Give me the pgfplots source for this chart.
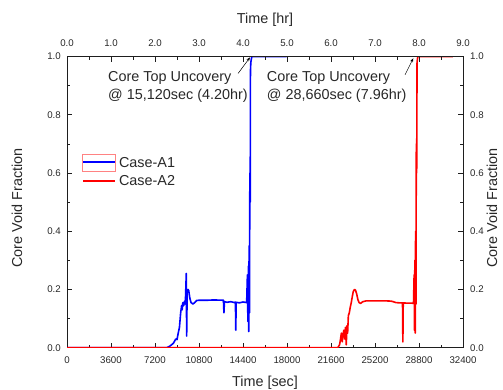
\documentclass[border=0pt]{standalone}
\usepackage{fontspec}
\setmainfont{Liberation Sans}
\usepackage{pgfplots}
\pgfplotsset{compat=1.18}
\usetikzlibrary{arrows.meta}
\definecolor{txt}{RGB}{40,40,40}
\definecolor{ax}{RGB}{30,30,30}
\definecolor{selbox}{RGB}{255,130,130}
\definecolor{cA}{RGB}{0,0,255}
\definecolor{cB}{RGB}{255,0,0}
\begin{document}
\begin{tikzpicture}
\path[use as bounding box] (0,0) rectangle (503pt,389pt);
\pgfplotsset{
  common/.style={
    at={(67pt,41.3pt)}, anchor=south west,
    width=396pt, height=291.2pt, scale only axis,
    ymin=0, ymax=1,
    tick align=inside,
    major tick length=5pt, minor tick length=3pt,
    tick style={ax, line width=0.6pt},
    axis line style={ax, line width=0.8pt},
    tick label style={font=\fontsize{9.7}{11}\selectfont, text=txt, inner sep=0pt},
    label style={font=\fontsize{14.4}{16}\selectfont, text=txt},
    ytick={0,0.2,0.4,0.6,0.8,1.0},
    yticklabels={0.0,0.2,0.4,0.6,0.8,1.0},
    minor y tick num=1,
    minor x tick num=1,
    scaled x ticks=false, scaled y ticks=false,
    /pgf/number format/assume math mode=true,
  }
}
\begin{axis}[common,
  xmin=0, xmax=32400,
  xtick={0,3600,7200,10800,14400,18000,21600,25200,28800,32400},
  xticklabels={0,3600,7200,10800,14400,18000,21600,25200,28800,32400},
  xtick pos=bottom, ytick pos=left,
  xticklabel style={anchor=center, yshift=-12.3pt},
  yticklabel style={anchor=east, xshift=-6pt},
  xlabel={Time [sec]},
  xlabel style={at={(axis description cs:0.5,-0.12)}, anchor=center},
  ylabel={Core Void Fraction},
  ylabel style={at={(axis description cs:-0.126,0.48)}, anchor=center, rotate=0},
]
\addplot[draw=cA, line width=1.6pt, line join=round]
coordinates {
(0,0) (8150,0) (8400,0.005) (8700,0.015) (8900,0.03) (9000,0.028)
(9100,0.05) (9200,0.07) (9300,0.12) (9380,0.145) (9420,0.13)
(9480,0.155) (9550,0.145) (9620,0.16) (9680,0.15) (9760,0.255)
(9790,0.04) (9830,0.19) (9900,0.2) (9960,0.196) (10050,0.17)
(10150,0.155) (10300,0.15) (10450,0.155) (10600,0.162) (10800,0.163)
(11500,0.163) (12000,0.164) (12800,0.163) (12840,0.12) (12880,0.158)
(13100,0.156) (13400,0.158) (13700,0.155) (13780,0.157) (13810,0.06)
(13840,0.156) (14100,0.154) (14400,0.157) (14700,0.155) (14760,0.25)
(14800,0.09) (14840,0.28) (14870,0.055) (14900,0.35) (14930,0.12)
(14960,0.6) (14990,0.5) (15010,0.95) (15040,0.98) (15120,1.0) (17970,1.0)
};
\addplot[draw=cB, line width=1.6pt, line join=round]
coordinates {
(0,0) (22150,0) (22300,0.01) (22380,0.03) (22450,0.05) (22520,0.02)
(22580,0.045) (22650,0.06) (22720,0.03) (22780,0.07) (22850,0.01)
(22900,0.075) (22960,0.05) (23020,0.11) (23100,0.12) (23180,0.14)
(23260,0.155) (23340,0.175) (23420,0.193) (23520,0.2) (23600,0.198)
(23700,0.185) (23800,0.165) (23900,0.155) (24020,0.152) (24200,0.158)
(24500,0.161) (25000,0.161) (26000,0.161) (26500,0.16) (26700,0.158)
(26900,0.155) (27200,0.154) (27450,0.154) (27480,0.02) (27510,0.154)
(27800,0.153) (28200,0.153) (28350,0.152) (28400,0.25) (28430,0.06)
(28460,0.3) (28490,0.05) (28520,0.4) (28550,0.15) (28580,0.7)
(28610,0.6) (28640,0.98) (28700,1.0) (31580,1.0)
};
% legend
\draw[selbox, line width=0.7pt] (axis description cs:0.0396,0.664) rectangle (axis description cs:0.1212,0.604);
\draw[cA, line width=1.6pt] (axis description cs:0.0404,0.637) -- (axis description cs:0.1212,0.637);
\draw[cB, line width=1.6pt] (axis description cs:0.0404,0.573) -- (axis description cs:0.1212,0.573);
\node[anchor=west, inner sep=0pt, font=\fontsize{14.4}{16}\selectfont, text=txt] at (axis description cs:0.131,0.637) {Case-A1};
\node[anchor=west, inner sep=0pt, font=\fontsize{14.4}{16}\selectfont, text=txt] at (axis description cs:0.131,0.573) {Case-A2};
% annotations
\node[anchor=base west, inner sep=0pt, font=\fontsize{14.4}{16}\selectfont, text=txt] at (axis cs:3355,0.913) {Core Top Uncovery};
\node[anchor=base west, inner sep=0pt, font=\fontsize{14.4}{16}\selectfont, text=txt] at (axis cs:3355,0.854) {@ 15,120sec (4.20hr)};
\node[anchor=base west, inner sep=0pt, font=\fontsize{14.4}{16}\selectfont, text=txt] at (axis cs:16340,0.913) {Core Top Uncovery};
\node[anchor=base west, inner sep=0pt, font=\fontsize{14.4}{16}\selectfont, text=txt] at (axis cs:16340,0.854) {@ 28,660sec (7.96hr)};
\draw[-{Stealth[length=4pt,width=3pt]}, black, line width=0.5pt] (axis cs:14000,0.942) -- (axis cs:14973,0.997);
\draw[-{Stealth[length=4pt,width=3pt]}, black, line width=0.5pt] (axis cs:27655,0.937) -- (axis cs:28335,0.994);
\end{axis}
\begin{axis}[common,
  xmin=0, xmax=9,
  axis x line*=top, axis y line*=right,
  xtick={0,1,2,3,4,5,6,7,8,9},
  xticklabels={0.0,1.0,2.0,3.0,4.0,5.0,6.0,7.0,8.0,9.0},
  xticklabel style={anchor=center, yshift=13.5pt},
  yticklabel style={anchor=west, xshift=7pt},
  xlabel={Time [hr]},
  xlabel style={at={(axis description cs:0.5,1.125)}, anchor=center},
  ylabel={Core Void Fraction},
  ylabel style={at={(axis description cs:1.073,0.48)}, anchor=center, rotate=0},
]
\end{axis}
\end{tikzpicture}
\end{document}
